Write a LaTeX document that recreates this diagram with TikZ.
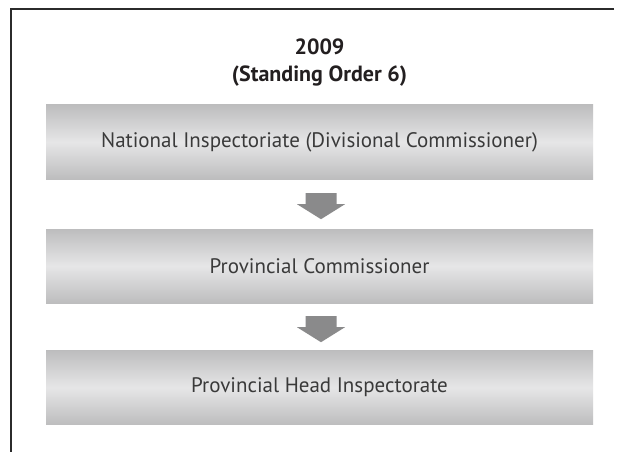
\documentclass[tikz,border=0pt]{standalone}
\usepackage{fontspec}
\setmainfont{PT Sans}
\usetikzlibrary{calc}
\definecolor{framec}{HTML}{2B2B2B}
\definecolor{boxedge}{HTML}{BDBDBE}
\definecolor{boxmid}{HTML}{E6E6E7}
\definecolor{arrowc}{HTML}{8A8A8B}
\definecolor{textc}{HTML}{3A3A3A}
\definecolor{titlec}{HTML}{231F20}
\newcommand{\titlefont}{\fontsize{22}{27}\selectfont\bfseries}
\newcommand{\boxfont}{\fontsize{21}{25}\selectfont}
\tikzset{
  levelbox/.style={rectangle, minimum width=547pt, minimum height=74pt, inner sep=0pt,
    top color=boxedge, bottom color=boxedge, middle color=boxmid,
    text=textc, font=\boxfont},
  titletext/.style={align=center, text=titlec, font=\titlefont},
  downarrow/.style={fill=arrowc},
  frameline/.style={draw=framec, line width=2pt}
}
\newcommand{\downarr}[1]{%
  \fill[downarrow] ($(#1)+(-15.5,0)$) -- ($(#1)+(15.5,0)$) -- ($(#1)+(15.5,11)$) -- ($(#1)+(24,11)$)
    -- ($(#1)+(0,26)$) -- ($(#1)+(-24,11)$) -- ($(#1)+(-15.5,11)$) -- cycle;}
\begin{document}
\begin{tikzpicture}[x=1pt,y=-1pt]
\useasboundingbox (0,0) rectangle (619,452);
\fill[white] (0,0) rectangle (619,452);
\coordinate (ftl) at (10.5,9.5);
\coordinate (ftr) at (614,9.5);
\coordinate (fbl) at (10.5,452);
\draw[frameline] (ftr) -- (ftl) -- (fbl);
\node[titletext] (title) at (319.5,62.5) {\titlefont 2009\\\titlefont (Standing Order 6)};
\node[levelbox] (b1) at (319.5,142) {National Inspectoriate (Divisional Commissioner)};
\node[levelbox] (b2) at (319.5,266) {Provincial Commissioner};
\node[levelbox] (b3) at (319.5,387.5) {Provincial Head Inspectorate};
\coordinate (a1) at ($(b1.south)+(1.5,14)$);
\coordinate (a2) at ($(b2.south)+(1.5,13)$);
\downarr{a1}
\downarr{a2}
\end{tikzpicture}
\end{document}
